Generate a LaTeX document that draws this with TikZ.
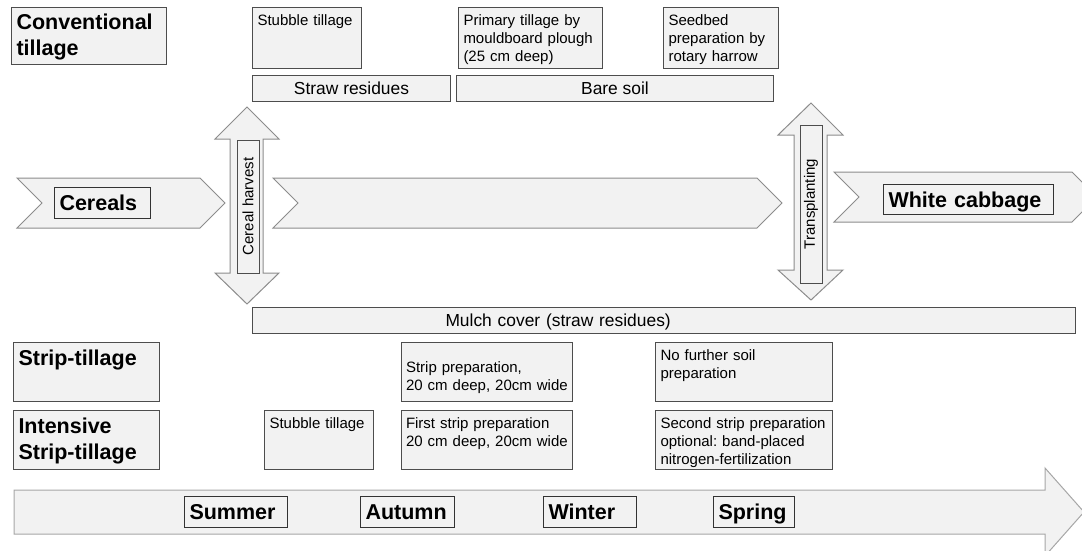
\documentclass[tikz,border=0pt]{standalone}
\usepackage{fontspec}
\setmainfont{Liberation Sans}
\frenchspacing
\definecolor{boxFill}{HTML}{F2F2F2}
\definecolor{boxLine}{HTML}{4D4D4D}
\definecolor{lblLine}{HTML}{333333}
\definecolor{arrLine}{HTML}{8C8C8C}
\definecolor{timeLine}{HTML}{A6A6A6}
\newcommand\hdrfont{\fontsize{21.5}{26}\selectfont\bfseries}
\newcommand\actfont{\fontsize{15}{18}\selectfont}
\newcommand\bandfont{\fontsize{17.4}{20}\selectfont}

\begin{document}
\begin{tikzpicture}[
  x=1pt, y=-1pt,
  base/.style={draw=boxLine, fill=boxFill, line width=1pt,
    inner xsep=5pt, inner ysep=0pt, anchor=north west},
  hdr/.style={base, align=left, font=\hdrfont, text width=136pt,
    text height=22.5pt, text depth=36.5pt},
  act/.style={base, align=left, font=\actfont,
    text height=18pt, text depth=41pt},
  band/.style={base, align=center, font=\bandfont,
    text height=12.5pt, text depth=0pt, minimum height=26pt},
  crop/.style={base, draw=lblLine, align=left, font=\hdrfont,
    text height=15.5pt, text depth=0pt, minimum height=31pt},
  evt/.style={draw=boxLine, fill=boxFill, line width=1pt, rotate=90,
    font=\actfont, inner sep=0pt, minimum height=22pt},
  phase/.style={draw=arrLine, fill=boxFill, line width=1pt},
  timeline/.style={draw=timeLine, fill=boxFill, line width=1pt},
]
\useasboundingbox (0,0) rectangle (1082,551);
\clip (0,0) rectangle (1082,551);

% ---------------- crop sequence ----------------
\draw[phase] (17,178) -- (200,178) -- (225,203) -- (200,228)
  -- (17,228) -- (42,203) -- cycle;
\draw[phase] (273,178) -- (757,178) -- (782,203) -- (757,228)
  -- (273,228) -- (298,203) -- cycle;
\draw[phase] (834,172) -- (1072,172) -- (1097,197) -- (1072,222)
  -- (834,222) -- (859,197) -- cycle;

\node[crop, text width=86pt]  (cereals) at (54,187)  {Cereals};
\node[crop, text width=160pt, minimum height=30pt] (cabbage) at (883,184) {White cabbage};

% ---------------- events ----------------
\draw[phase] (247,107) -- (279,139) -- (263,139) -- (263,273) -- (279,273)
  -- (247,304) -- (215,273) -- (230,273) -- (230,139) -- (215,139) -- cycle;
\draw[phase] (811,103) -- (843,135) -- (827,135) -- (827,270) -- (843,270)
  -- (811,300) -- (778,270) -- (794,270) -- (794,135) -- (778,135) -- cycle;

\node[evt, minimum width=133pt] (harvest) at (248,206.5) {Cereal harvest};
\node[evt, minimum width=158pt] (transpl) at (811,204) {Transplanting};

% ---------------- conventional tillage ----------------
\node[hdr, text width=145pt, text depth=34.5pt] (conv) at (11,7)
  {Conventional\\tillage};
\node[act, text width=99pt, text depth=43pt] (stubA) at (252,7)
  {Stubble tillage};
\node[act, text width=134pt, text depth=43pt] (plough) at (458,7)
  {Primary tillage by\\mouldboard plough\\(25 cm deep)};
\node[act, text width=105pt, text depth=43pt] (seedbed) at (663,7)
  {Seedbed\\preparation by\\rotary harrow};

\node[band, minimum width=198pt] (straw) at (252,75) {Straw residues};
\node[band, minimum width=317pt] (bare)  at (456,75) {Bare soil};

% ---------------- strip-tillage ----------------
\node[band, inner xsep=193pt, text width=437pt, align=left] (mulch) at (252,307)
  {Mulch cover (straw residues)};

\node[hdr] (strip) at (13,342) {Strip-tillage};
\node[act, inner xsep=4.5pt, text width=162pt, text height=30pt, text depth=29pt]
  (stripprep) at (401,342) {Strip preparation,\\20 cm deep, 20cm wide};
\node[act, text width=167pt] (nofurther) at (655,342)
  {No further soil\\preparation};

\node[hdr] (intens) at (13,410) {Intensive\\Strip-tillage};
\node[act, text width=99pt] (stubB) at (264,410) {Stubble tillage};
\node[act, inner xsep=4.5pt, text width=162pt] (firstprep) at (401,410)
  {First strip preparation\\20 cm deep, 20cm wide};
\node[act, text width=167pt] (secondprep) at (655,410)
  {Second strip preparation\\optional: band-placed\\nitrogen-fertilization};

% ---------------- seasons ----------------
\draw[timeline] (14,490) -- (1045,490) -- (1045,468) -- (1084,512)
  -- (1045,556) -- (1045,534) -- (14,534) -- cycle;

\node[crop, text width=93pt] (summer) at (184,496) {Summer};
\node[crop, text width=84pt] (autumn) at (360,496) {Autumn};
\node[crop, text width=83pt] (winter) at (543,496) {Winter};
\node[crop, text width=71pt] (spring) at (713,496) {Spring};

\end{tikzpicture}
\end{document}
